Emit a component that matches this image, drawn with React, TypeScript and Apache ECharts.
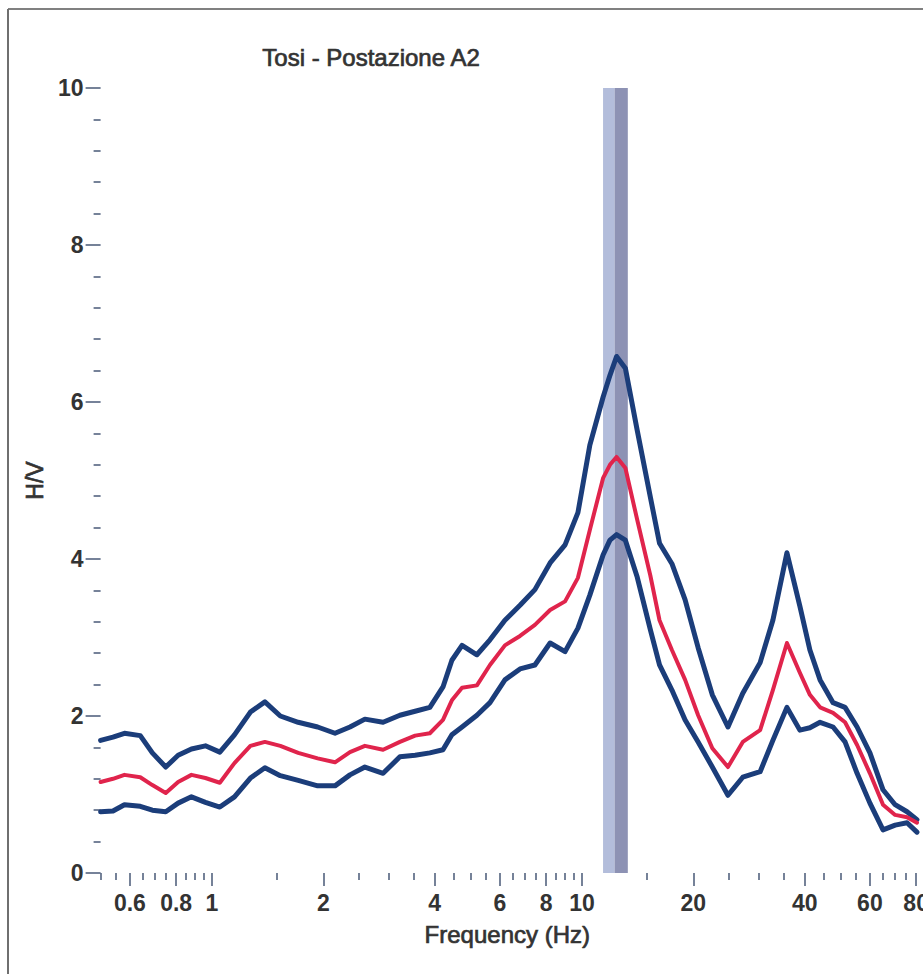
import React, { useEffect, useRef } from "react";
import * as echarts from "echarts";

// H/V spectral ratio, station A2: frequency samples (Hz)
const FREQ_HZ = [
  0.5, 0.54, 0.58, 0.64, 0.69, 0.75, 0.81, 0.88, 0.96,
  1.05, 1.15, 1.27, 1.39, 1.53, 1.71, 1.93,
  2.15, 2.36, 2.59, 2.9, 3.22, 3.54, 3.88,
  4.21, 4.45, 4.74, 5.2, 5.64, 6.19, 6.8, 7.46, 8.2, 9.0, 9.75,
  10.5, 11.4, 11.9, 12.4, 13.1, 14.1, 15.3, 16.2, 17.5, 19.0,
  20.6, 22.5, 24.8, 27.2, 30.3, 32.8, 35.8, 38.8,
  41.3, 44.0, 47.7, 51.4, 55.4, 60.0, 65.1, 70.2, 75.6, 80.4,
];

// mean + standard deviation
const HV_UPPER = [
  1.69, 1.73, 1.78, 1.75, 1.53, 1.35, 1.5, 1.58, 1.62, 1.54,
  1.76, 2.05, 2.18, 2.0, 1.92, 1.86, 1.78, 1.86, 1.96, 1.92,
  2.01, 2.06, 2.11, 2.37, 2.71, 2.9, 2.78, 2.97, 3.22, 3.41,
  3.61, 3.95, 4.18, 4.59, 5.45, 6.06, 6.34, 6.58, 6.43, 5.64,
  4.79, 4.2, 3.94, 3.48, 2.87, 2.27, 1.86, 2.29, 2.68, 3.22,
  4.08, 3.4, 2.84, 2.46, 2.17, 2.11, 1.86, 1.53, 1.06, 0.87,
  0.78, 0.68,
];

// mean H/V
const HV_MEAN = [
  1.16, 1.2, 1.25, 1.22, 1.12, 1.02, 1.16, 1.25, 1.21, 1.15,
  1.4, 1.62, 1.67, 1.62, 1.53, 1.46, 1.41, 1.54, 1.62, 1.57,
  1.67, 1.75, 1.78, 1.95, 2.2, 2.36, 2.39, 2.65, 2.9, 3.02,
  3.16, 3.35, 3.46, 3.76, 4.37, 5.03, 5.2, 5.3, 5.16, 4.5,
  3.79, 3.22, 2.84, 2.46, 2.01, 1.59, 1.35, 1.67, 1.82, 2.33,
  2.93, 2.55, 2.27, 2.11, 2.04, 1.92, 1.63, 1.27, 0.87, 0.74,
  0.71, 0.64,
];

// mean - standard deviation
const HV_LOWER = [
  0.78, 0.79, 0.87, 0.85, 0.8, 0.78, 0.89, 0.97, 0.9, 0.84,
  0.97, 1.21, 1.34, 1.24, 1.18, 1.11, 1.11, 1.25, 1.35, 1.27,
  1.48, 1.5, 1.53, 1.57, 1.76, 1.86, 2.01, 2.17, 2.46, 2.6,
  2.65, 2.93, 2.82, 3.12, 3.54, 4.05, 4.24, 4.31, 4.24, 3.77,
  3.1, 2.65, 2.33, 1.95, 1.67, 1.35, 0.99, 1.22, 1.29, 1.69,
  2.11, 1.82, 1.85, 1.92, 1.86, 1.67, 1.27, 0.89, 0.55, 0.61,
  0.64, 0.52,
];

// peak frequency band (Hz): f0 - sigma .. f0, f0 .. f0 + sigma
const PEAK_LOW_BAND = [11.4, 12.25];
const PEAK_HIGH_BAND = [12.25, 13.3];

const X_MAJOR_TICKS = [0.6, 0.8, 1, 2, 4, 6, 8, 10, 20, 40, 60, 80, 100];
const X_LABELS = [0.6, 0.8, 1, 2, 4, 6, 8, 10, 20, 40, 60, 80];
const X_MINOR_TICKS = [
  0.5, 0.55, 0.65, 0.7, 0.75, 0.85, 0.9, 0.95, 1.5, 2.5, 3, 3.5, 4.5, 5, 5.5,
  6.5, 7, 7.5, 8.5, 9, 9.5, 15, 25, 30, 35, 45, 50, 55, 65, 70, 75, 85, 90, 95,
];

const FONT = "'Liberation Sans', Arial, sans-serif";
const TEXT = "#333333";
const TICK = "#53637f";
const BLUE = "#1b3d7a";
const RED = "#e0244c";

function pairs(values: number[]) {
  return FREQ_HZ.map((f, i) => [f, values[i]]);
}

export default function App() {
  const ref = useRef<HTMLDivElement>(null);

  useEffect(() => {
    if (!ref.current) return;
    const chart = echarts.init(ref.current, undefined, { renderer: "svg" });
    const fmt = (v: number) => String(+Number(v).toPrecision(3));
    // slightly heavier strokes for the plain-weight captions
    const heavy = { textBorderColor: TEXT, textBorderWidth: 0.7 };

    chart.setOption({
      animation: false,
      backgroundColor: "#ffffff",
      title: {
        text: "Tosi - Postazione A2",
        left: 371,
        top: 45,
        padding: 0,
        textAlign: "center",
        textStyle: {
          fontFamily: FONT,
          fontSize: 24,
          fontWeight: "normal",
          color: TEXT,
          ...heavy,
        },
      },
      grid: { left: 100.6, right: 48, top: 88, bottom: 101 },
      xAxis: [
        {
          type: "log",
          logBase: 10,
          min: 0.5,
          max: 100,
          position: "bottom",
          name: "Frequency (Hz)",
          nameLocation: "middle",
          nameGap: 49,
          nameTextStyle: {
            fontFamily: FONT,
            fontSize: 24,
            color: TEXT,
            padding: [0, 38, 0, 0],
            ...heavy,
          },
          axisLine: { show: false },
          axisTick: {
            show: true,
            length: 13,
            customValues: X_MAJOR_TICKS,
            lineStyle: { color: TICK, width: 1.6 },
          },
          minorTick: { show: false },
          axisLabel: {
            customValues: X_LABELS,
            margin: 18,
            fontFamily: FONT,
            fontSize: 23,
            fontWeight: "bold",
            color: TEXT,
            formatter: fmt,
          },
          splitLine: { show: false },
        },
        {
          type: "log",
          logBase: 10,
          min: 0.5,
          max: 100,
          position: "bottom",
          axisLine: { show: false },
          axisTick: {
            show: true,
            length: 7,
            customValues: X_MINOR_TICKS,
            lineStyle: { color: TICK, width: 1.6 },
          },
          minorTick: { show: false },
          axisLabel: { show: false },
          splitLine: { show: false },
        },
      ],
      yAxis: {
        type: "value",
        min: 0,
        max: 10,
        interval: 2,
        name: "H/V",
        nameLocation: "middle",
        nameGap: 47,
        nameTextStyle: { fontFamily: FONT, fontSize: 23, color: TEXT, ...heavy },
        axisLine: { show: false },
        axisTick: { show: true, length: 15, lineStyle: { color: TICK, width: 1.6 } },
        minorTick: { show: true, splitNumber: 5, length: 7, lineStyle: { color: TICK, width: 1.6 } },
        axisLabel: {
          margin: 17,
          fontFamily: FONT,
          fontSize: 23,
          fontWeight: "bold",
          color: TEXT,
        },
        splitLine: { show: false },
        minorSplitLine: { show: false },
      },
      graphic: [
        {
          type: "line",
          shape: { x1: 8, y1: 9, x2: 1000, y2: 9 },
          style: { stroke: "#808080", lineWidth: 2 },
          z: 10,
        },
        {
          type: "line",
          shape: { x1: 8, y1: 9, x2: 8, y2: 974 },
          style: { stroke: "#6f6f6f", lineWidth: 2 },
          z: 10,
        },
      ],
      series: [
        {
          name: "f0 band",
          type: "line",
          data: [],
          z: 1,
          silent: true,
          markArea: {
            silent: true,
            data: [
              [
                { xAxis: PEAK_LOW_BAND[0], itemStyle: { color: "#b3bddb" } },
                { xAxis: PEAK_LOW_BAND[1] },
              ],
              [
                { xAxis: PEAK_HIGH_BAND[0], itemStyle: { color: "#8d92b4" } },
                { xAxis: PEAK_HIGH_BAND[1] },
              ],
            ],
          },
        },
        {
          name: "H/V + σ",
          type: "line",
          data: pairs(HV_UPPER),
          symbol: "none",
          z: 3,
          lineStyle: { color: BLUE, width: 5, join: "round", cap: "round" },
        },
        {
          name: "H/V - σ",
          type: "line",
          data: pairs(HV_LOWER),
          symbol: "none",
          z: 3,
          lineStyle: { color: BLUE, width: 5, join: "round", cap: "round" },
        },
        {
          name: "H/V",
          type: "line",
          data: pairs(HV_MEAN),
          symbol: "none",
          z: 4,
          lineStyle: { color: RED, width: 4, join: "round", cap: "round" },
        },
      ],
    });

    return () => chart.dispose();
  }, []);

  return (
    <div
      style={{
        position: "fixed",
        left: 0,
        top: 0,
        width: 923,
        height: 974,
        overflow: "hidden",
        background: "#ffffff",
      }}
    >
      <div ref={ref} style={{ width: 1000, height: 974 }} />
    </div>
  );
}
